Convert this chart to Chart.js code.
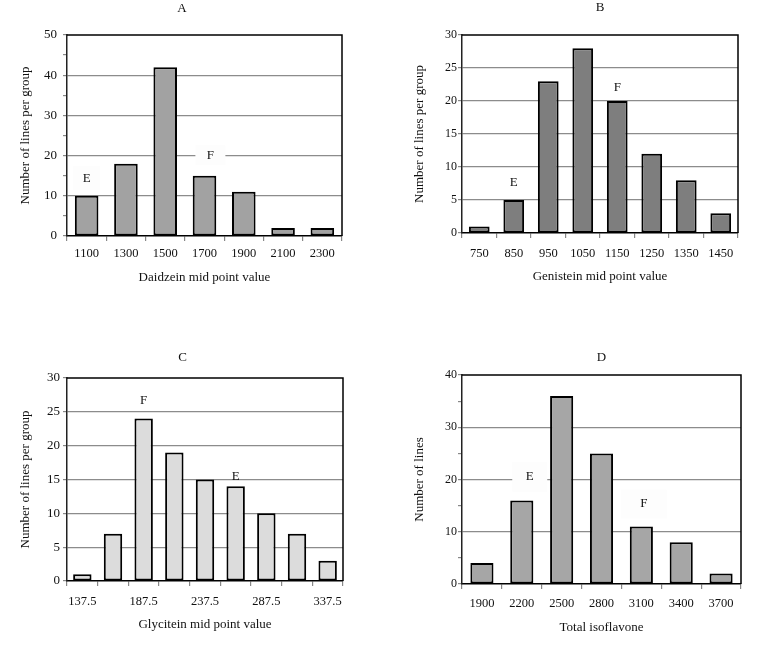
<!DOCTYPE html>
<html>
<head>
<meta charset="utf-8">
<script src="https://cdn.jsdelivr.net/npm/chart.js@4.4.0/dist/chart.umd.min.js"></script>
<style>
    body { margin: 0; background: #fff; width: 760px; height: 649px; position: relative; overflow: hidden; }
    canvas { position: absolute; }
</style>
</head>
<body>
<canvas id="chartA" width="380" height="300" style="left:0;top:0"></canvas>
<canvas id="chartB" width="380" height="300" style="left:380px;top:0"></canvas>
<canvas id="chartC" width="380" height="319" style="left:0;top:330px"></canvas>
<canvas id="chartD" width="380" height="319" style="left:380px;top:330px"></canvas>
<script>
// Data
const daidzeinLabels = ['1100', '1300', '1500', '1700', '1900', '2100', '2300'];
const daidzeinCounts = [10, 18, 42, 15, 11, 2, 2];
const daidzeinNotes = [{ text: 'E', index: 0, value: 14.4 }, { text: 'F', index: 3.15, value: 20.1 }];

const genisteinLabels = ['750', '850', '950', '1050', '1150', '1250', '1350', '1450'];
const genisteinCounts = [1, 5, 23, 28, 20, 12, 8, 3];
const genisteinNotes = [{ text: 'E', index: 1, value: 7.6 }, { text: 'F', index: 4, value: 22 }];

const glyciteinLabels = ['137.5', '162.5', '187.5', '212.5', '237.5', '262.5', '287.5', '312.5', '337.5'];
const glyciteinCounts = [1, 7, 24, 19, 15, 14, 10, 7, 3];
const glyciteinNotes = [{ text: 'F', index: 2, value: 26.7 }, { text: 'E', index: 5, value: 15.5 }];

const totalLabels = ['1900', '2200', '2500', '2800', '3100', '3400', '3700'];
const totalCounts = [4, 16, 36, 25, 11, 8, 2];
const totalNotes = [{ text: 'E', index: 1.2, value: 20.5 }, { text: 'F', index: 4.06, value: 15.3 }];

const serif = '"Liberation Serif", "Times New Roman", serif';

// Black frame on top and right of the plot area
const framePlugin = {
    id: 'frame',
    afterDatasetsDraw(chart) {
        const { ctx, chartArea: a } = chart;
        ctx.save();
        ctx.strokeStyle = '#000';
        ctx.lineWidth = 1.5;
        ctx.beginPath();
        ctx.moveTo(a.left, a.top);
        ctx.lineTo(a.right, a.top);
        ctx.lineTo(a.right, a.bottom);
        ctx.stroke();
        ctx.restore();
    }
};

// E / F letters with a white patch behind them
const notesPlugin = {
    id: 'notes',
    afterDatasetsDraw(chart, args, opts) {
        const { ctx, scales: { x, y } } = chart;
        (opts.items || []).forEach((n, i) => {
            const px = x.getPixelForValue(n.index);
            const py = y.getPixelForValue(n.value);
            const box = (opts.boxes || [])[i];
            ctx.save();
            if (box) {
                ctx.fillStyle = '#fdfdfd';
                ctx.fillRect(px - box[0] / 2, py - box[1] / 2, box[0], box[1]);
            }
            ctx.fillStyle = '#111';
            ctx.font = '13px ' + serif;
            ctx.textAlign = 'center';
            ctx.textBaseline = 'middle';
            ctx.fillText(n.text, px, py);
            ctx.restore();
        });
    }
};

function makeHistogram(id, s) {
    const ctx = document.getElementById(id).getContext('2d');
    return new Chart(ctx, {
        type: 'bar',
        data: {
            labels: s.labels,
            datasets: [{
                data: s.counts,
                backgroundColor: s.fill,
                borderColor: '#000',
                borderWidth: 2,
                borderSkipped: false,
                categoryPercentage: 1,
                barPercentage: s.barPct
            }]
        },
        options: {
            responsive: false,
            animation: false,
            layout: { padding: { left: s.padLeft, right: s.padRight, top: 0, bottom: 0 } },
            plugins: {
                legend: { display: false },
                tooltip: { enabled: false },
                title: {
                    display: true,
                    text: s.title,
                    fullSize: s.fullTitle,
                    color: '#111',
                    font: { family: serif, size: 13, weight: 'normal', lineHeight: 1.1 },
                    padding: { top: s.titleTop, bottom: s.titleBottom }
                },
                notes: { items: s.notes, boxes: s.boxes }
            },
            scales: {
                x: {
                    afterFit: sc => { sc.height = s.xHeight; },
                    border: { color: '#000', width: 1.5 },
                    grid: { display: true, drawOnChartArea: false, offset: true, tickLength: 5, tickColor: '#888', lineWidth: 1.2 },
                    ticks: {
                        color: '#111',
                        font: { family: serif, size: 12.5 },
                        padding: s.xTickPad,
                        autoSkip: false,
                        maxRotation: 0,
                        callback: function(v, i) {
                            return (i % s.labelEvery === 0) ? this.getLabelForValue(v) : '';
                        }
                    },
                    title: {
                        display: true,
                        text: s.xTitle,
                        color: '#111',
                        font: { family: serif, size: 13, lineHeight: 1.2 },
                        padding: { top: 0, bottom: s.xTitlePad }
                    }
                },
                y: {
                    min: 0,
                    max: s.max,
                    afterFit: sc => { sc.width = s.yWidth; },
                    border: { color: '#222', width: 1.5 },
                    grid: {
                        color: c => (c.tick && c.tick.value % s.major === 0 && c.tick.value > 0 && c.tick.value < s.max) ? '#8c8c8c' : 'rgba(0,0,0,0)',
                        lineWidth: 1.2,
                        tickLength: 4,
                        tickColor: '#888'
                    },
                    ticks: {
                        stepSize: s.major / 2,
                        color: '#111',
                        font: { family: serif, size: s.yFont },
                        padding: s.yTickPad,
                        callback: v => (v % s.major === 0 ? v : '')
                    },
                    title: {
                        display: true,
                        text: s.yTitle,
                        color: '#111',
                        font: { family: serif, size: 13, lineHeight: 1 },
                        padding: { top: s.yTitlePad, bottom: 0 }
                    }
                }
            }
        },
        plugins: [framePlugin, notesPlugin]
    });
}

document.addEventListener('DOMContentLoaded', function() {
    // A - Daidzein
    makeHistogram('chartA', {
        labels: daidzeinLabels, counts: daidzeinCounts, notes: daidzeinNotes,
        boxes: [[27, 24], [30, 20]],
        title: 'A', fullTitle: true, titleTop: 1, titleBottom: 19.7,
        fill: '#a2a2a2', barPct: 0.6, max: 50, major: 10,
        padLeft: 22, padRight: 38, yWidth: 45, xHeight: 64,
        xTickPad: 5, xTitlePad: 15, labelEvery: 1,
        yFont: 13, yTickPad: 6, yTitlePad: -3,
        xTitle: 'Daidzein mid point value', yTitle: 'Number of lines per group'
    });

    // B - Genistein
    makeHistogram('chartB', {
        labels: genisteinLabels, counts: genisteinCounts, notes: genisteinNotes,
        boxes: [null, null],
        title: 'B', fullTitle: false, titleTop: 0, titleBottom: 20.7,
        fill: '#7e7e7e', barPct: 0.6, max: 30, major: 5,
        padLeft: 0, padRight: 22, yWidth: 82, xHeight: 67,
        xTickPad: 8, xTitlePad: 16, labelEvery: 1,
        yFont: 12, yTickPad: 1, yTitlePad: 33,
        xTitle: 'Genistein mid point value', yTitle: 'Number of lines per group'
    });

    // C - Glycitein
    makeHistogram('chartC', {
        labels: glyciteinLabels, counts: glyciteinCounts, notes: glyciteinNotes,
        boxes: [null, null],
        title: 'C', fullTitle: true, titleTop: 20, titleBottom: 13.7,
        fill: '#dcdcdc', barPct: 0.6, max: 30, major: 5,
        padLeft: 22, padRight: 37, yWidth: 45, xHeight: 68,
        xTickPad: 8, xTitlePad: 17, labelEvery: 2,
        yFont: 13, yTickPad: 3, yTitlePad: -3,
        xTitle: 'Glycitein mid point value', yTitle: 'Number of lines per group'
    });

    // D - Total isoflavone
    makeHistogram('chartD', {
        labels: totalLabels, counts: totalCounts, notes: totalNotes,
        boxes: [[35, 30], [46, 29]],
        title: 'D', fullTitle: false, titleTop: 20, titleBottom: 10.7,
        fill: '#a6a6a6', barPct: 0.58, max: 40, major: 10,
        padLeft: 0, padRight: 19, yWidth: 82, xHeight: 65,
        xTickPad: 7, xTitlePad: 14, labelEvery: 1,
        yFont: 12, yTickPad: 1, yTitlePad: 33,
        xTitle: 'Total isoflavone', yTitle: 'Number of lines'
    });
});
</script>
</body>
</html>
